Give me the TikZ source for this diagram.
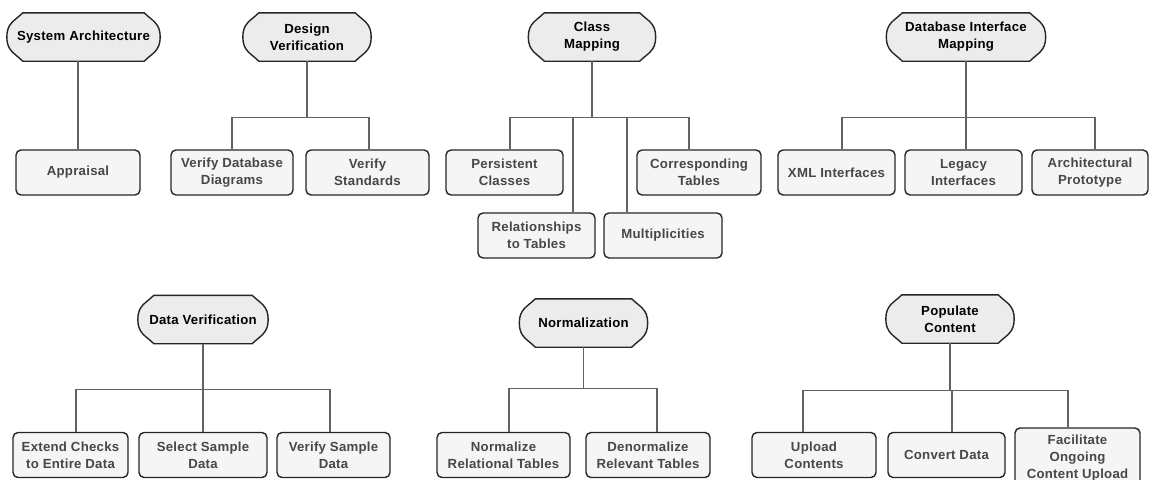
\documentclass[tikz,border=0pt]{standalone}
\usepackage{fontspec}
\newfontfamily\diagfont{Liberation Sans}[LetterSpace=2]
\usetikzlibrary{backgrounds}
\begin{document}
\begin{tikzpicture}[x=1pt,y=-1pt,
  txt/.style={font=\diagfont\bfseries\fontsize{13.2}{17}\selectfont, align=center, inner sep=0pt},
  hdr/.style={txt, rectangle, minimum height=48pt, text=black},
  hdrshape/.style={draw=black!85, line width=1.4pt, fill=gray!15},
  task/.style={txt, rectangle, draw=black!85, line width=1.4pt, rounded corners=5pt,
               fill=gray!8, minimum height=45pt, text=black!72},
  conn/.style={draw=black!62, line width=1.1pt}]
\useasboundingbox (0,0) rectangle (1150,479);

% ---- top row headers
\node[hdr, minimum width=153pt] (sa)  at (83.5,37)  {System Architecture};
\node[hdr, minimum width=128pt] (dv)  at (307,37)   {Design\\Verification};
\node[hdr, minimum width=127pt] (cm)  at (592,37)   {Class\\Mapping};
\node[hdr, minimum width=159pt] (dim) at (966,37)   {Database Interface\\Mapping};

% ---- bottom row headers
\node[hdr, minimum width=130pt] (dav) at (203,319.5) {Data Verification};
\node[hdr, minimum width=128pt] (nm)  at (583.5,323) {Normalization};
\node[hdr, minimum width=128pt] (pcn) at (950,319)   {Populate\\Content};

% ---- top row tasks
\node[task, minimum width=124pt] (ap)   at (78,172.5)    {Appraisal};
\node[task, minimum width=122pt] (vdd)  at (232,172.5)   {Verify Database\\Diagrams};
\node[task, minimum width=123pt] (vs)   at (367.5,172.5) {Verify\\Standards};
\node[task, minimum width=117pt] (pc)   at (504.5,172.5) {Persistent\\Classes};
\node[task, minimum width=124pt] (ct)   at (699,172.5)   {Corresponding\\Tables};
\node[task, minimum width=117pt] (rt)   at (536.5,235.5) {Relationships\\to Tables};
\node[task, minimum width=118pt] (mu)   at (663,235.5)   {Multiplicities};
\node[task, minimum width=117pt] (xml)  at (836.5,172.5) {XML Interfaces};
\node[task, minimum width=117pt] (li)   at (963.5,172.5) {Legacy\\Interfaces};
\node[task, minimum width=116pt] (arp)  at (1090,172.5)  {Architectural\\Prototype};

% ---- bottom row tasks
\node[task, minimum width=115pt] (ec)   at (70.5,455)  {Extend Checks\\to Entire Data};
\node[task, minimum width=128pt] (ss)   at (203,455)   {Select Sample\\Data};
\node[task, minimum width=113pt] (vsd)  at (333.5,455) {Verify Sample\\Data};
\node[task, minimum width=133pt] (nrt)  at (503.5,455) {Normalize\\Relational Tables};
\node[task, minimum width=124pt] (drt)  at (648,455)   {Denormalize\\Relevant Tables};
\node[task, minimum width=124pt] (uc)   at (814,455)   {Upload\\Contents};
\node[task, minimum width=117pt] (cd)   at (946.5,455) {Convert Data};
\node[task, minimum width=125pt, minimum height=60pt] (fo) at (1077.5,458)
     {Facilitate\\Ongoing\\Content Upload};

% ---- header outlines: flat top and bottom, bevelled corners easing into round sides
\begin{pgfonlayer}{background}
\foreach \n in {sa,dv,cm,dim,dav,nm,pcn}
  \draw[hdrshape] ([xshift=16pt]\n.north west) -- ([xshift=-16pt]\n.north east)
    .. controls ([xshift=-8pt,yshift=-8pt]\n.north east) and ([yshift=14pt]\n.east) .. (\n.east)
    .. controls ([yshift=-14pt]\n.east) and ([xshift=-8pt,yshift=8pt]\n.south east) .. ([xshift=-16pt]\n.south east)
    -- ([xshift=16pt]\n.south west)
    .. controls ([xshift=8pt,yshift=8pt]\n.south west) and ([yshift=-14pt]\n.west) .. (\n.west)
    .. controls ([yshift=14pt]\n.west) and ([xshift=8pt,yshift=-8pt]\n.north west) .. cycle;
\end{pgfonlayer}

% ---- connectors
\draw[conn] (ap.north) -- (ap.north |- sa.south);

\draw[conn] (dv.south) -- ++(0,56) -| (vdd.north);
\draw[conn] (dv.south) -- ++(0,56) -| ([xshift=1.5pt]vs.north);

\draw[conn] (cm.south) -- ++(0,56) -| ([xshift=5.5pt]pc.north);
\draw[conn] (cm.south) -- ++(0,56) -| ([xshift=36.5pt]rt.north);
\draw[conn] (cm.south) -- ++(0,56) -| ([xshift=-36pt]mu.north);
\draw[conn] (cm.south) -- ++(0,56) -| ([xshift=-10pt]ct.north);

\draw[conn] (dim.south) -- ++(0,56) -| ([xshift=5.5pt]xml.north);
\draw[conn] (dim.south) -- ++(0,56) -| ([xshift=2.5pt]li.north);
\draw[conn] (dim.south) -- ++(0,56) -| ([xshift=5pt]arp.north);

\draw[conn] (dav.south) -- ++(0,46) -| ([xshift=5.5pt]ec.north);
\draw[conn] (dav.south) -- ++(0,46) -| (ss.north);
\draw[conn] (dav.south) -- ++(0,46) -| ([xshift=-3.5pt]vsd.north);

\draw[conn] (nm.south) -- ++(0,41) -| ([xshift=5.5pt]nrt.north);
\draw[conn] (nm.south) -- ++(0,41) -| ([xshift=9pt]drt.north);

\draw[conn] (pcn.south) -- ++(0,47) -| ([xshift=-11pt]uc.north);
\draw[conn] (pcn.south) -- ++(0,47) -| ([xshift=5.5pt]cd.north);
\draw[conn] (pcn.south) -- ++(0,47) -| ([xshift=-9.5pt]fo.north);
\end{tikzpicture}
\end{document}
